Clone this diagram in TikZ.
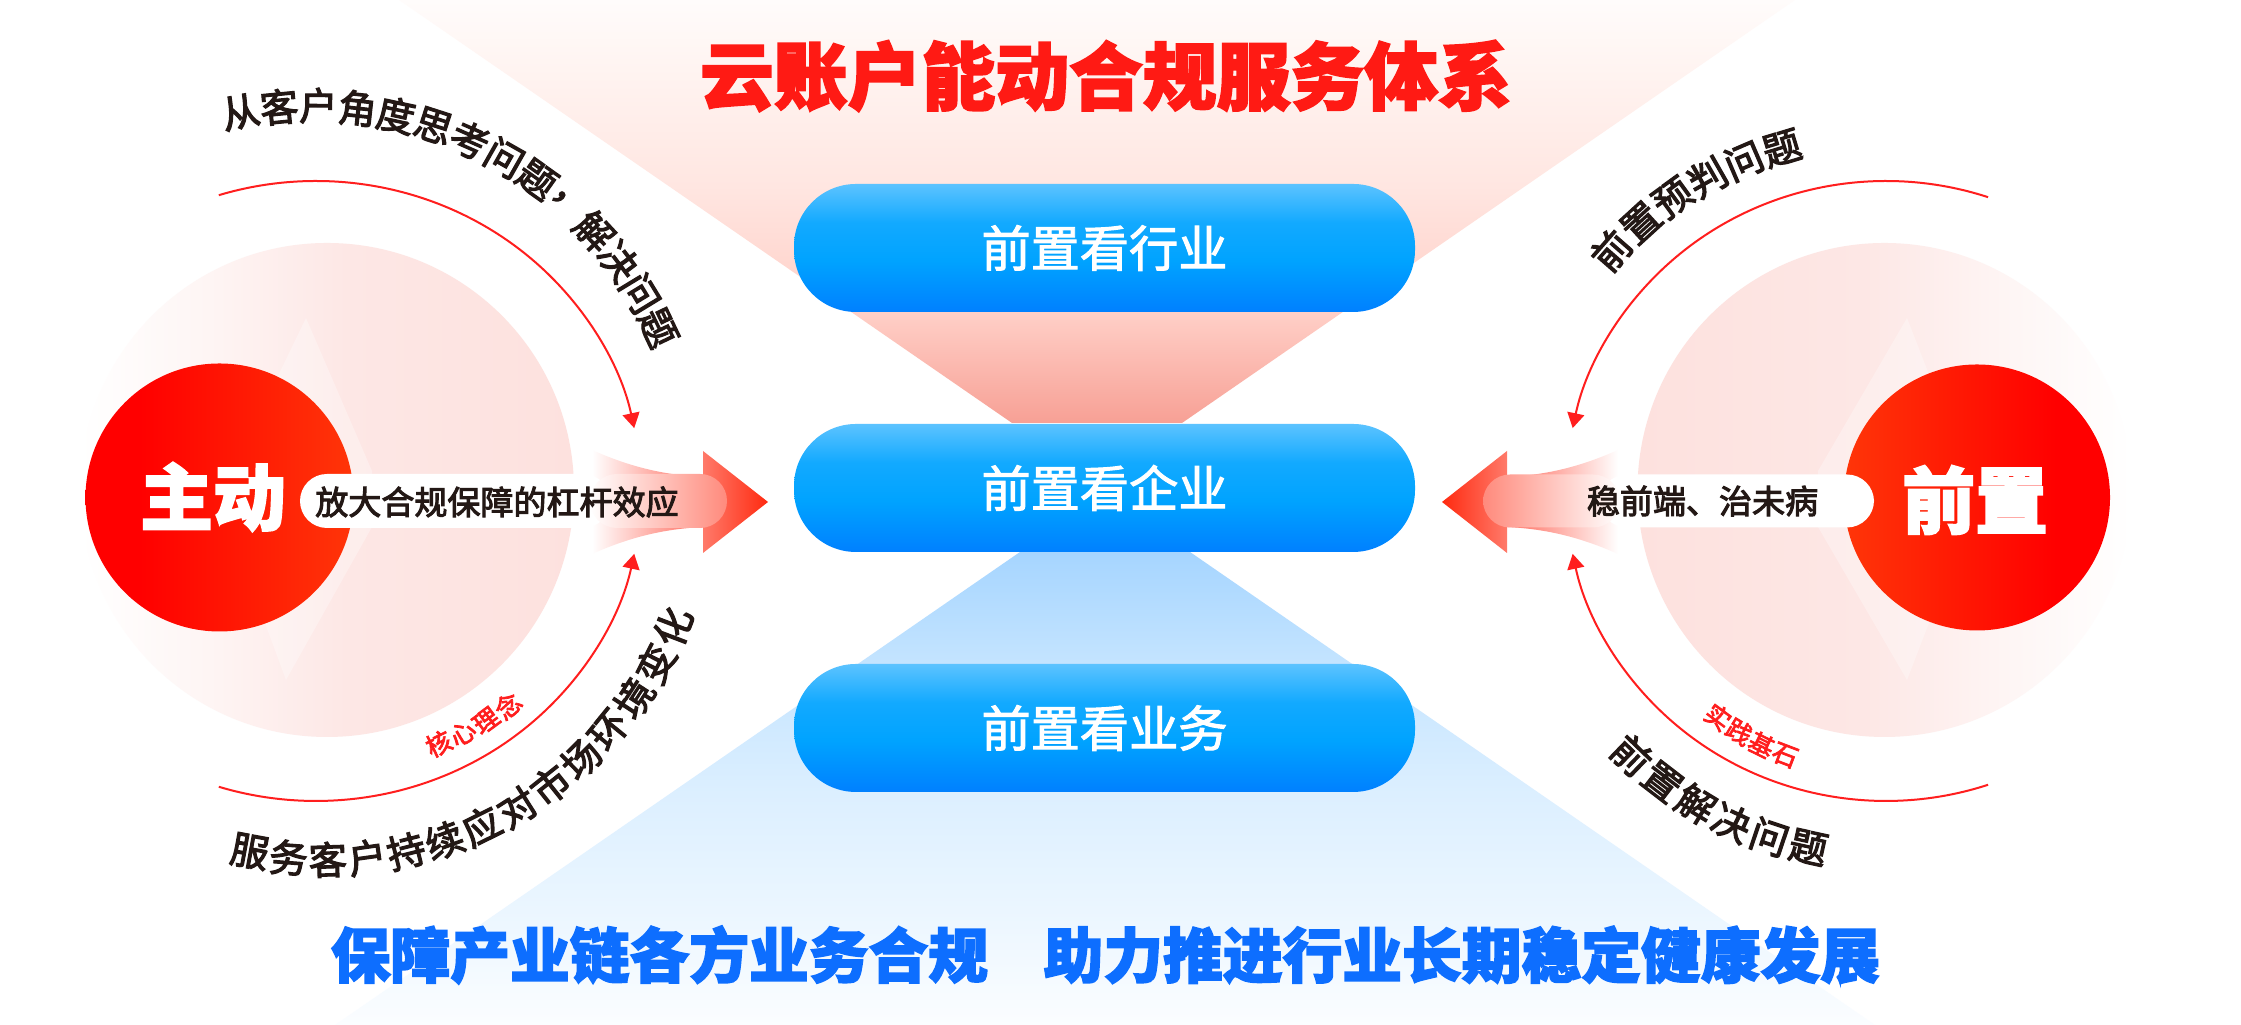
\documentclass[tikz,border=0pt]{standalone}
\usepackage{fontspec}
\setmainfont{Noto Sans CJK SC}[BoldFeatures={RawFeature={embolden=2.5}}]
\newfontfamily\cjkmed{Noto Sans CJK SC}[RawFeature={embolden=3}]
\newfontfamily\cjklite{Noto Sans CJK SC}[RawFeature={embolden=2}]
\usetikzlibrary{arrows.meta,calc}
\definecolor{titlered}{HTML}{FF1A14}
\definecolor{botblue}{HTML}{0D6EFF}
\definecolor{arcred}{HTML}{FF1E1E}
\definecolor{darktxt}{HTML}{231815}
\definecolor{pbTop}{HTML}{5CC3FF}
\definecolor{pbMid}{HTML}{00A3FF}
\definecolor{pbBot}{HTML}{0080FF}
\definecolor{rf0}{HTML}{F7A095}
\definecolor{rf1}{HTML}{FFCFC7}
\definecolor{rf2}{HTML}{FFE6E1}
\definecolor{rf3}{HTML}{FFF3F0}
\definecolor{rf4}{HTML}{FFFCFB}
\definecolor{bf0}{HTML}{FBFDFF}
\definecolor{bf1}{HTML}{EDF7FF}
\definecolor{bf2}{HTML}{DCEFFF}
\definecolor{bf3}{HTML}{C4E4FF}
\definecolor{bf4}{HTML}{A6D5FF}
\definecolor{hl1}{HTML}{FEF5F4}
\definecolor{hl2}{HTML}{FDE7E5}
\definecolor{hl3}{HTML}{FDE1DE}
\definecolor{red0}{HTML}{FF0000}
\definecolor{red1}{HTML}{FF3508}
\definecolor{tailred}{HTML}{FF6A5C}
\definecolor{headA}{HTML}{FF7A6A}
\definecolor{headB}{HTML}{FF2A10}
\definecolor{bandred}{HTML}{FF8A7C}
\pgfdeclareverticalshading{pillshade}{100bp}{color(0bp)=(pbBot); color(25bp)=(pbBot); color(45bp)=(pbMid); color(60bp)=(pbMid!80!pbTop); color(75bp)=(pbTop); color(100bp)=(pbTop)}
\pgfdeclareverticalshading{redfun}{100bp}{color(0bp)=(rf0); color(25bp)=(rf0); color(38bp)=(rf1); color(53bp)=(rf2); color(66bp)=(rf3); color(75bp)=(rf4); color(100bp)=(rf4)}
\pgfdeclareverticalshading{bluefun}{100bp}{color(0bp)=(bf0); color(25bp)=(bf0); color(35.6bp)=(bf1); color(49.5bp)=(bf2); color(63.2bp)=(bf3); color(75bp)=(bf4); color(100bp)=(bf4)}
\pgfdeclarehorizontalshading{haloL}{100bp}{color(0bp)=(white); color(25bp)=(white); color(38bp)=(hl1); color(52bp)=(hl2); color(75bp)=(hl3); color(100bp)=(hl3)}
\pgfdeclarehorizontalshading{haloR}{100bp}{color(0bp)=(hl3); color(25bp)=(hl3); color(48bp)=(hl2); color(62bp)=(hl1); color(75bp)=(white); color(100bp)=(white)}
\pgfdeclarehorizontalshading{redcL}{100bp}{color(0bp)=(red0); color(35bp)=(red0); color(75bp)=(red1); color(100bp)=(red1)}
\pgfdeclarehorizontalshading{redcR}{100bp}{color(0bp)=(red1); color(25bp)=(red1); color(65bp)=(red0); color(100bp)=(red0)}
\pgfdeclarehorizontalshading{tailL}{100bp}{color(0bp)=(white); color(25bp)=(white); color(75bp)=(tailred); color(100bp)=(tailred)}
\pgfdeclarehorizontalshading{tailR}{100bp}{color(0bp)=(tailred); color(25bp)=(tailred); color(75bp)=(white); color(100bp)=(white)}
\pgfdeclarehorizontalshading{headL}{100bp}{color(0bp)=(headA); color(25bp)=(headA); color(75bp)=(headB); color(100bp)=(headB)}
\pgfdeclarehorizontalshading{headR}{100bp}{color(0bp)=(headB); color(25bp)=(headB); color(75bp)=(headA); color(100bp)=(headA)}
\pgfdeclarehorizontalshading{bandL}{100bp}{color(0bp)=(white); color(25bp)=(white); color(75bp)=(bandred); color(100bp)=(bandred)}
\pgfdeclarehorizontalshading{bandR}{100bp}{color(0bp)=(bandred); color(25bp)=(bandred); color(75bp)=(white); color(100bp)=(white)}
\begin{document}
\begin{tikzpicture}[x=0.1mm,y=0.1mm,
  pillnode/.style={shade, shading=pillshade, rounded corners=6.2mm, minimum width=62.1mm, minimum height=12.8mm, inner sep=0pt},
  pilltxt/.style={text=white, font=\cjklite\fontsize{14}{14}\selectfont, inner sep=0pt},
  redball/.style={circle, shade, inner sep=0pt},
  balltxt/.style={text=white, font=\bfseries\fontsize{20.7}{20.7}\selectfont, inner sep=0pt},
  lbltxt/.style={text=darktxt, font=\cjkmed\fontsize{9.4}{9.4}\selectfont, inner sep=0pt},
  arctxt/.style={text=darktxt, font=\cjkmed\fontsize{10.9}{10.9}\selectfont, inner sep=0pt},
  redtxt/.style={text=arcred, font=\cjkmed\fontsize{7.2}{7.2}\selectfont, inner sep=0pt},
  arcline/.style={draw=arcred, line width=0.2mm, -{Triangle[length=1.5mm,width=1.7mm]}},
]
\useasboundingbox (0,0) rectangle (2241,1025);
\fill[white] (0,0) rectangle (2241,1025);
% funnels
\shade[shading=redfun] (1012,602) -- (1182,602) -- (1795,1025) -- (399,1025) -- cycle;
\shade[shading=bluefun] (1020,473) -- (1190,473) -- (1875,0) -- (335,0) -- cycle;
% halos
\shade[shading=haloL] (327,535) circle[radius=247];
\shade[shading=haloR] (1884.5,535) circle[radius=247];
\fill[white, opacity=0.3] (306,707) -- (372,554) -- (372,498) -- (286,345) -- (219,527) -- cycle;
\fill[white, opacity=0.3] (1907,707) -- (1818,554) -- (1818,498) -- (1907,345) -- (1977,527) -- cycle;
% red balls
\node[redball, shading=redcL, minimum size=26.8mm] (cL) at (219.5,527.5) {};
\node[redball, shading=redcR, minimum size=26.6mm] (cR) at (1977,527.5) {};
% left arrow
\shade[shading=tailL] (592,575) .. controls (628,559) and (662,550) .. (703,548) -- (703,498) .. controls (662,496) and (628,487) .. (592,471) -- cycle;
\shade[shading=headL] (703,574) -- (768,523) -- (703,472) -- cycle;
\fill[white, rounded corners=2.7mm] (300,497) rectangle (610,551);
\shade[shading=bandL, rounded corners=2.7mm] (590,497) rectangle (727,551);
% right arrow
\shade[shading=tailR] (1618,575) .. controls (1582,559) and (1548,550) .. (1507,548) -- (1507,498) .. controls (1548,496) and (1582,487) .. (1618,471) -- cycle;
\shade[shading=headR] (1507,574) -- (1442,523) -- (1507,472) -- cycle;
\fill[white, rounded corners=2.7mm] (1600,497.5) rectangle (1874,550.5);
\shade[shading=bandR, rounded corners=2.7mm] (1483,497.5) rectangle (1620,550.5);
% pills
\node[pillnode] (p1) at (1104.5,777) {};
\node[pillnode] (p2) at (1104.5,537) {};
\node[pillnode] (p3) at (1104.5,297) {};
\node[pilltxt] (t1) at (p1) {前置看行业};
\node[pilltxt] (t2) at (p2) {前置看企业};
\node[pilltxt] (t3) at (p3) {前置看业务};
% arcs
\coordinate (oL) at (316,534);
\coordinate (oR) at (1886,534);
\draw[arcline] ($(oL)+(107.4:325 and 310)$) arc[start angle=107.4, end angle=11.7, x radius=325, y radius=310];
\draw[arcline] ($(oL)+(-107.4:325 and 310)$) arc[start angle=-107.4, end angle=-11.7, x radius=325, y radius=310];
\draw[arcline] ($(oR)+(71.4:320 and 310)$) arc[start angle=71.4, end angle=168.3, x radius=320, y radius=310];
\draw[arcline] ($(oR)+(-71.4:320 and 310)$) arc[start angle=-71.4, end angle=-168.3, x radius=320, y radius=310];
% texts
\node[text=titlered, font=\bfseries\fontsize{21}{21}\selectfont, inner sep=0pt] (title) at (1106,949) {云账户能动合规服务体系};
\node[text=botblue, font=\bfseries\fontsize{17}{17}\selectfont, inner sep=0pt] (bottom) at (1105.5,70) {保障产业链各方业务合规\hspace{0.93em}助力推进行业长期稳定健康发展};
\node[balltxt] (zd) at (213,528) {主动};
\node[balltxt] (qz) at (1975,525) {前置};
\node[lbltxt] (lblL) at (497,523) {放大合规保障的杠杆效应};
\node[lbltxt] (lblR) at (1702.5,524) {稳前端、治未病};
% curved texts
\foreach \ch [count=\i from 0] in {从,客,户,角,度,思,考,问,题,，,解,决,问,题} {
  \pgfmathsetmacro\ang{101.3-\i*5.83}
  \pgfmathsetmacro\rad{386.5-\i*0.58}
  \node[arctxt, rotate=\ang-90] (ua\i) at ($(oL)+(\ang:\rad)$) {\ch};
}
\foreach \ch [count=\i from 0] in {服,务,客,户,持,续,应,对,市,场,环,境,变,化} {
  \pgfmathsetmacro\ang{-100.4+\i*6.12}
  \pgfmathsetmacro\rad{366.5+\i*1.2}
  \node[arctxt, rotate=\ang+90] (la\i) at ($(oL)+(\ang:\rad)$) {\ch};
}
\foreach \ch [count=\i from 0] in {核,心,理,念} {
  \pgfmathsetmacro\ang{-64.1+\i*5.3}
  \pgfmathsetmacro\rad{281+\i*2.3}
  \node[redtxt, rotate=\ang+90] (ka\i) at ($(oL)+(\ang:\rad)$) {\ch};
}
\foreach \ch [count=\i from 0] in {前,置,预,判,问,题} {
  \pgfmathsetmacro\ang{138.8-\i*6.38}
  \pgfmathsetmacro\rad{365-\i*1.4}
  \node[arctxt, rotate=\ang-90] (ur\i) at ($(oR)+(\ang:\rad)$) {\ch};
}
\foreach \ch [count=\i from 0] in {前,置,解,决,问,题} {
  \pgfmathsetmacro\ang{-133.9+\i*6.32}
  \pgfmathsetmacro\rad{367-\i*0.4}
  \node[arctxt, rotate=\ang+90] (lr\i) at ($(oR)+(\ang:\rad)$) {\ch};
}
\foreach \ch [count=\i from 0] in {实,践,基,石} {
  \pgfmathsetmacro\ang{-126.6+\i*5.23}
  \pgfmathsetmacro\rad{281.6+\i*0.5}
  \node[redtxt, rotate=\ang+90] (sj\i) at ($(oR)+(\ang:\rad)$) {\ch};
}
\end{tikzpicture}
\end{document}
